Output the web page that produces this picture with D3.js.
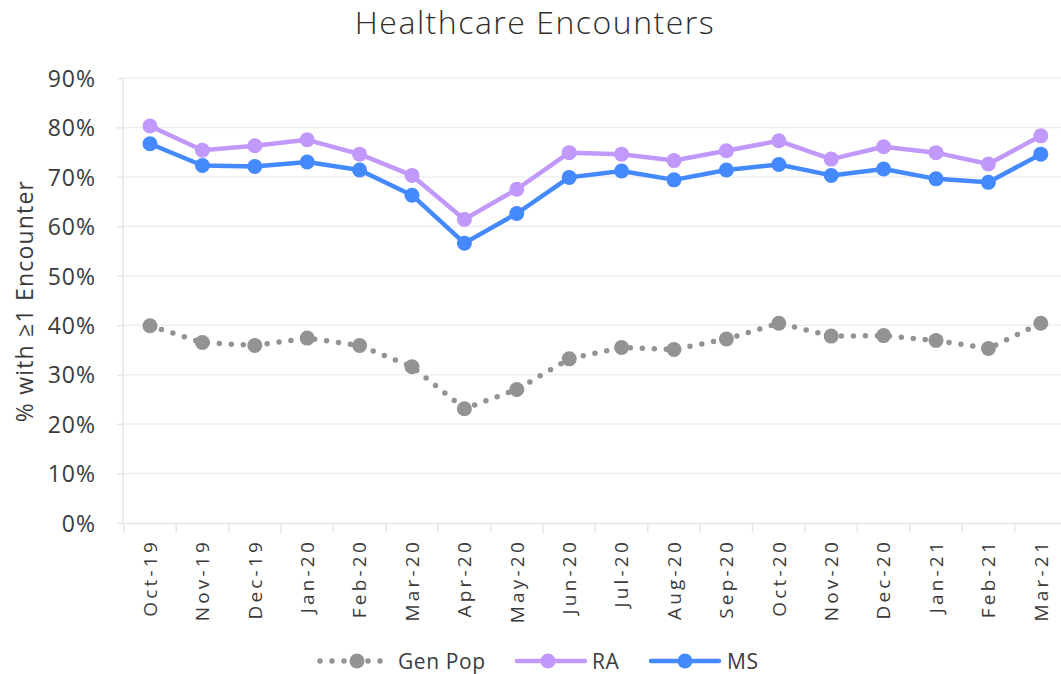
<!DOCTYPE html>
<html><head><meta charset="utf-8">
<script src="https://cdn.jsdelivr.net/npm/d3@7"></script>
<style>
body{margin:0;background:#fff;}
svg{display:block;}
svg text{font-family:"Open Sans","Noto Sans",sans-serif;}
</style></head>
<body><svg id="c" width="1061" height="674"></svg>
<script>
const categories = ["Oct-19","Nov-19","Dec-19","Jan-20","Feb-20","Mar-20","Apr-20","May-20","Jun-20","Jul-20","Aug-20","Sep-20","Oct-20","Nov-20","Dec-20","Jan-21","Feb-21","Mar-21"];
const genPop = [39.9,36.5,35.9,37.4,35.9,31.6,23.1,27.0,33.2,35.5,35.1,37.2,40.4,37.8,37.9,36.9,35.3,40.4];
const ra = [80.3,75.4,76.3,77.5,74.6,70.3,61.4,67.5,74.9,74.6,73.3,75.3,77.3,73.6,76.1,74.9,72.6,78.3];
const ms = [76.7,72.3,72.1,73.0,71.4,66.3,56.6,62.6,69.9,71.2,69.4,71.4,72.5,70.3,71.6,69.6,68.9,74.6];
const yTicks = [0,10,20,30,40,50,60,70,80,90];

const svg = d3.select("#c");
const textColor = "#3b3b3b";
const x = d3.scaleBand().domain(categories).range([123.8, 1067]);
const y = d3.scaleLinear().domain([0,90]).range([523, 78]);

// gridlines
svg.append("g").selectAll("line").data(yTicks.filter(d=>d>0)).join("line")
  .attr("x1",123).attr("x2",1061).attr("y1",d=>y(d)).attr("y2",d=>y(d))
  .attr("stroke","#efefef").attr("stroke-width",1.5);

// y axis
const ya = svg.append("g").attr("transform","translate(123,0)")
  .call(d3.axisLeft(y).tickValues(yTicks).tickFormat(d=>d+"%").tickSize(6).tickPadding(21));
ya.attr("font-family",null).attr("font-size",null);
ya.select(".domain").attr("stroke","#e6e6e6").attr("stroke-width",1.5).attr("d","M0,78V523");
ya.selectAll(".tick line").attr("stroke","#e6e6e6").attr("stroke-width",1.5);
ya.selectAll("text").attr("fill",textColor).style("font-size","23px").style("letter-spacing","1px").attr("dy","0.36em");

// x axis
const xa = svg.append("g").attr("transform","translate(0,523)")
  .call(d3.axisBottom(x).tickSize(0).tickPadding(0));
xa.attr("font-family",null).attr("font-size",null);
xa.select(".domain").attr("stroke","#e6e6e6").attr("stroke-width",1.5);
xa.selectAll("text").attr("fill",textColor).style("font-size","19px").style("letter-spacing","3.2px")
  .attr("text-anchor","end").attr("dy","0.36em")
  .attr("transform","translate(0,16) rotate(-90)");
svg.append("g").selectAll("line").data(categories).join("line")
  .attr("x1",d=>x(d)).attr("x2",d=>x(d)).attr("y1",523).attr("y2",533)
  .attr("stroke","#e6e6e6").attr("stroke-width",1.5);

// title
svg.append("text").attr("x",535).attr("y",34).attr("text-anchor","middle")
  .attr("fill","#2e2e2e").style("font-size","32px").style("font-weight",300).style("letter-spacing","1.5px")
  .text("Healthcare Encounters");
// y title
svg.append("text").attr("transform","translate(33,301) rotate(-90)").attr("text-anchor","middle")
  .attr("fill",textColor).style("font-size","23px").style("letter-spacing","1.2px").text("% with \u22651 Encounter");

const cx = d => x(d) + x.bandwidth()/2;
const line = d3.line().x((d,i)=>cx(categories[i])).y(d=>y(d));

const series = [
  {name:"Gen Pop", data:genPop, color:"#929491", dotted:true},
  {name:"RA", data:ra, color:"#c198fb", dotted:false},
  {name:"MS", data:ms, color:"#4589ff", dotted:false}
];

series.forEach(s=>{
  const p = svg.append("path").datum(s.data).attr("d",line).attr("fill","none")
    .attr("stroke",s.color).attr("stroke-linecap","round").attr("stroke-linejoin","round");
  if(s.dotted) p.attr("stroke-width",5.5).attr("stroke-dasharray","0,12");
  else p.attr("stroke-width",4.5);
  svg.append("g").selectAll("circle").data(s.data).join("circle")
    .attr("cx",(d,i)=>cx(categories[i])).attr("cy",d=>y(d)).attr("r",7.5).attr("fill",s.color);
});

// legend
const leg = [
  {s:series[0], x1:320, x2:388, mx:357, tx:398},
  {s:series[1], x1:517, x2:585, mx:548, tx:592},
  {s:series[2], x1:651, x2:719, mx:685, tx:727}
];
const ly = 661;
leg.forEach(l=>{
  const ln = svg.append("line").attr("x1",l.x1).attr("x2",l.x2).attr("y1",ly).attr("y2",ly)
    .attr("stroke",l.s.color).attr("stroke-linecap","round");
  if(l.s.dotted) ln.attr("stroke-width",5.5).attr("stroke-dasharray","0,12");
  else ln.attr("stroke-width",4.5);
  svg.append("circle").attr("cx",l.mx).attr("cy",ly).attr("r",7.5).attr("fill",l.s.color);
  svg.append("text").attr("x",l.tx).attr("y",ly).attr("dy","0.36em").attr("fill",textColor)
    .style("font-size","21px").style("letter-spacing","0.6px").text(l.s.name);
});
</script></body></html>
